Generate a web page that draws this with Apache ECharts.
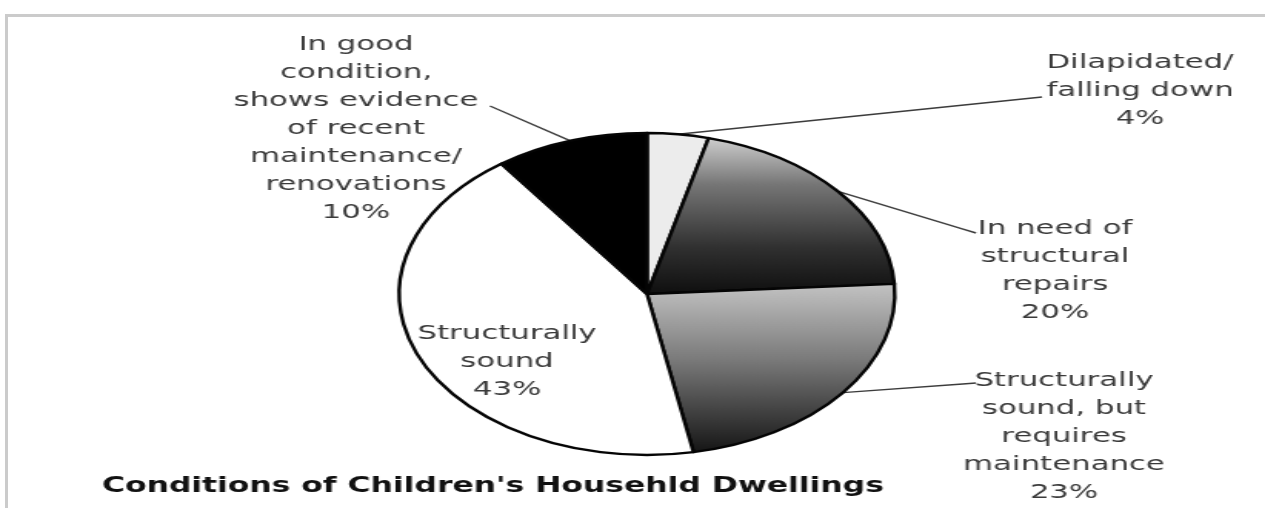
<!DOCTYPE html>
<html>
<head>
<meta charset="utf-8">
<script src="https://cdn.jsdelivr.net/npm/echarts@6/dist/echarts.min.js"></script>
<style>
  html, body { margin: 0; padding: 0; background: #ffffff; overflow: hidden; }
  #wrap { width: 1265px; height: 508px; position: relative; overflow: hidden; background: #ffffff; }
  /* the chart layer is drawn narrow and widened, giving the oval pie and wide lettering */
  #pie { position: absolute; left: 0; top: 0; width: 822px; height: 508px; transform: scaleX(1.539); transform-origin: 0 0; }
  /* the frame is drawn at normal proportions on top */
  #frame { position: absolute; left: 0; top: 0; width: 1265px; height: 508px; pointer-events: none; }
</style>
</head>
<body>
<div id="wrap"><div id="pie"></div><div id="frame"></div></div>
<script>
// Shares of dwellings by condition, clockwise from 12 o'clock
const categories = [
  'Dilapidated/\nfalling down',
  'In need of\nstructural\nrepairs',
  'Structurally\nsound, but\nrequires\nmaintenance',
  'Structurally\nsound',
  'In good\ncondition,\nshows evidence\nof recent\nmaintenance/\nrenovations'
];
const shares = [4, 20, 23, 43, 10];
const titleText = "Conditions of Children's Househld Dwellings";

// horizontal stretch applied to the chart layer
const SX = 1.539;

// label anchor (centre of text block) and leader end, in page pixels
const labelSpots = [
  { x: 1140, y: 91,  end: [1042, 97] },
  { x: 1055, y: 271, end: [976, 233] },
  { x: 1064, y: 437, end: [976, 383] },
  { x: 507,  y: 362, end: null },
  { x: 356,  y: 129, end: [490, 106] }
];

const sliceStyles = [
  { color: '#ececec' },
  { color: new echarts.graphic.LinearGradient(0, 0, 0, 1, [
      { offset: 0, color: '#d0d0d0' },
      { offset: 0.3, color: '#767676' },
      { offset: 0.7, color: '#303030' },
      { offset: 1, color: '#0e0e0e' }
    ]) },
  { color: new echarts.graphic.LinearGradient(0, 0, 0, 1, [
      { offset: 0, color: '#c4c4c4' },
      { offset: 0.45, color: '#7a7a7a' },
      { offset: 1, color: '#141414' }
    ]) },
  { color: '#ffffff' },
  { color: '#000000' }
];

const pieChart = echarts.init(document.getElementById('pie'), null, { renderer: 'canvas' });

const seriesData = categories.map((name, i) => ({
  name: name,
  value: shares[i],
  itemStyle: Object.assign({ borderColor: '#050505', borderWidth: 2.4 }, sliceStyles[i]),
  labelLine: { show: labelSpots[i].end !== null }
}));

pieChart.setOption({
  animation: false,
  title: {
    text: titleText,
    left: 102 / SX,
    top: 477,
    padding: 0,
    textStyle: { fontFamily: 'DejaVu Sans', fontWeight: 'bold', fontSize: 20.4, color: '#111111' }
  },
  series: [{
    type: 'pie',
    center: [647 / SX, 294],
    radius: 161,
    startAngle: 90,
    clockwise: true,
    avoidLabelOverlap: false,
    emphasis: { disabled: true },
    label: {
      show: true,
      position: 'outside',
      formatter: '{b}\n{c}%',
      fontFamily: 'DejaVu Sans',
      fontSize: 20,
      lineHeight: 28,
      color: '#3a3a3a',
      align: 'center'
    },
    labelLine: {
      show: true,
      lineStyle: { color: '#3c3c3c', width: 1.4 }
    },
    labelLayout: function (params) {
      const spot = labelSpots[params.dataIndex];
      const out = {
        x: spot.x / SX,
        y: spot.y,
        align: 'center',
        verticalAlign: 'middle'
      };
      if (spot.end && params.labelLinePoints) {
        const start = params.labelLinePoints[0];
        const end = [spot.end[0] / SX, spot.end[1]];
        const mid = [start[0] + (end[0] - start[0]) * 0.9, start[1] + (end[1] - start[1]) * 0.9];
        out.labelLinePoints = [start, mid, end];
      }
      return out;
    },
    data: seriesData
  }]
});

const frameChart = echarts.init(document.getElementById('frame'), null, { renderer: 'canvas' });
frameChart.setOption({
  animation: false,
  graphic: [
    { type: 'line', silent: true, shape: { x1: 5, y1: 15.5, x2: 1265, y2: 15.5 },
      style: { stroke: '#cbcbcb', lineWidth: 3 } },
    { type: 'line', silent: true, shape: { x1: 6.5, y1: 14, x2: 6.5, y2: 508 },
      style: { stroke: '#cbcbcb', lineWidth: 3 } }
  ]
});
</script>
</body>
</html>
